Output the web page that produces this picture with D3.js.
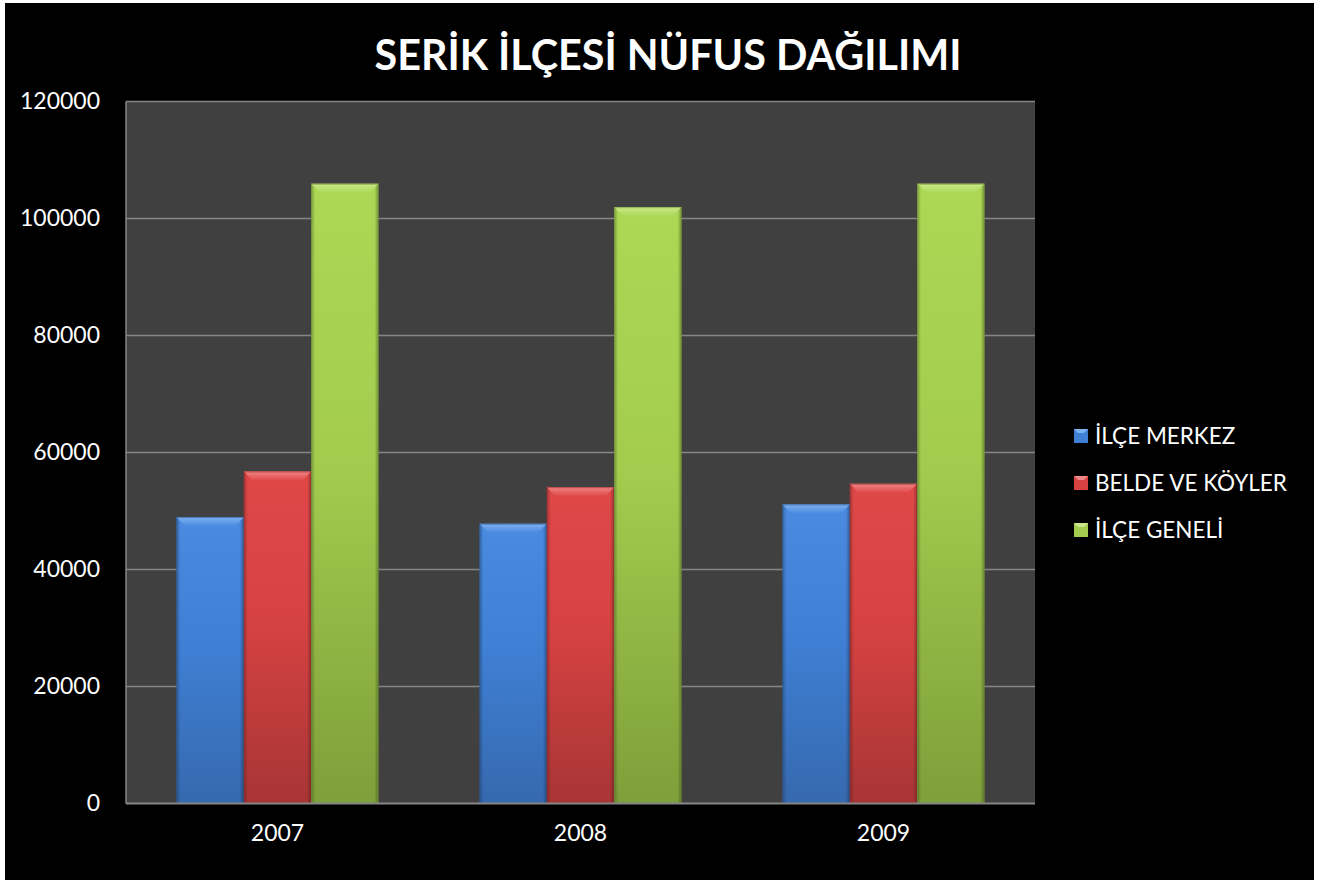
<!DOCTYPE html>
<html><head><meta charset="utf-8">
<script src="https://cdn.jsdelivr.net/npm/d3@7"></script>
<style>html,body{margin:0;padding:0;background:#fff;}svg{display:block;}</style>
</head><body>
<svg id="c" width="1335" height="880"></svg>
<script>
const title = "SERİK İLÇESİ NÜFUS DAĞILIMI";
const categories = ["2007", "2008", "2009"];
const seriesNames = ["İLÇE MERKEZ", "BELDE VE KÖYLER", "İLÇE GENELİ"];
const ilceMerkez = [48940, 47810, 51110];
const beldeKoyler = [56750, 54070, 54650];
const ilceGeneli = [105930, 101930, 105930];
const yTicks = [0, 20000, 40000, 60000, 80000, 100000, 120000];
const seriesValues = [ilceMerkez, beldeKoyler, ilceGeneli];
const colors = [
  {top:"#4a8ae0", mid:"#3f7fd4", bot:"#3669ae", bevel:"#7fb2f0", side:"#2f5e9e"},
  {top:"#e04848", mid:"#d64242", bot:"#a83535", bevel:"#f08585", side:"#9c3030"},
  {top:"#acd855", mid:"#a3cc4e", bot:"#7e9f3a", bevel:"#cbe98a", side:"#74933a"}
];
const FONT = "Lato, 'Open Sans', sans-serif";

const svg = d3.select("#c");
svg.append("rect").attr("x",5).attr("y",3).attr("width",1309).attr("height",877).attr("fill","#000");

const m = {l:126, t:101.5, r:1035, b:803.5};
const catW = (m.r - m.l)/categories.length;
const xc = d3.scaleBand().domain(categories).range([m.l, m.r]).padding(0);
const xs = d3.scaleBand().domain(d3.range(3)).range([0, catW*2/3]);
const y = d3.scaleLinear().domain([0,120000]).range([m.b, m.t]);

const defs = svg.append("defs");
colors.forEach((c,i)=>{
  const g = defs.append("linearGradient").attr("id","g"+i).attr("x1",0).attr("x2",0).attr("y1",0).attr("y2",1);
  g.append("stop").attr("offset","0%").attr("stop-color",c.top);
  g.append("stop").attr("offset","45%").attr("stop-color",c.mid);
  g.append("stop").attr("offset","100%").attr("stop-color",c.bot);
  const h = defs.append("linearGradient").attr("id","h"+i).attr("x1",0).attr("x2",1).attr("y1",0).attr("y2",0);
  h.append("stop").attr("offset","0%").attr("stop-color","#000").attr("stop-opacity",0.25);
  h.append("stop").attr("offset","6%").attr("stop-color","#000").attr("stop-opacity",0.0);
  h.append("stop").attr("offset","94%").attr("stop-color","#000").attr("stop-opacity",0.0);
  h.append("stop").attr("offset","100%").attr("stop-color","#000").attr("stop-opacity",0.3);
  const b = defs.append("linearGradient").attr("id","b"+i).attr("x1",0).attr("x2",0).attr("y1",0).attr("y2",1);
  b.append("stop").attr("offset","0%").attr("stop-color",c.bevel);
  b.append("stop").attr("offset","100%").attr("stop-color",c.top);
});

svg.append("rect").attr("x",m.l).attr("y",m.t).attr("width",m.r-m.l).attr("height",m.b-m.t).attr("fill","#404040");

svg.append("g").selectAll("line").data(yTicks.filter(d=>d>0)).join("line")
  .attr("x1",m.l).attr("x2",m.r).attr("y1",d=>y(d)).attr("y2",d=>y(d))
  .attr("stroke","#868686").attr("stroke-width",1.5);

svg.append("line").attr("x1",m.l).attr("x2",m.l).attr("y1",m.t).attr("y2",m.b).attr("stroke","#868686").attr("stroke-width",1.5);

const yAxis = svg.append("g").attr("transform",`translate(${m.l},0)`)
  .call(d3.axisLeft(y).tickValues(yTicks).tickSize(0).tickPadding(26).tickFormat(d3.format("d")));
yAxis.select(".domain").remove();
yAxis.selectAll("text").attr("fill","#fff").attr("font-family",FONT).attr("font-size",23);

const bars = [];
categories.forEach((c,ci)=>{
  seriesValues.forEach((vals,si)=>{ bars.push({c, si, v: vals[ci]}); });
});
const bw = xs.bandwidth();
const bg = svg.append("g");
bars.forEach(b=>{
  const x = xc(b.c) + catW/6 + xs(b.si);
  const yt = y(b.v), yb = y(0);
  const c = colors[b.si];
  bg.append("rect").attr("x",x).attr("y",yt).attr("width",bw).attr("height",yb-yt).attr("fill",`url(#g${b.si})`);
  bg.append("rect").attr("x",x).attr("y",yt).attr("width",bw).attr("height",yb-yt).attr("fill",`url(#h${b.si})`);
  const bv = 9;
  bg.append("polygon").attr("points",[[x,yt],[x+bw,yt],[x+bw-bv,yt+bv],[x+bv,yt+bv]].map(p=>p.join(",")).join(" "))
    .attr("fill",`url(#b${b.si})`);
  bg.append("rect").attr("x",x+0.5).attr("y",yt+0.5).attr("width",bw-1).attr("height",yb-yt-1)
    .attr("fill","none").attr("stroke",c.side).attr("stroke-opacity",0.6).attr("stroke-width",1);
});

svg.append("line").attr("x1",m.l).attr("x2",m.r).attr("y1",m.b).attr("y2",m.b).attr("stroke","#868686").attr("stroke-width",2);

const xAxis = svg.append("g").attr("transform",`translate(0,${m.b})`)
  .call(d3.axisBottom(xc).tickSize(0).tickPadding(21));
xAxis.select(".domain").remove();
xAxis.selectAll("text").attr("fill","#fff").attr("font-family",FONT).attr("font-size",23);

const t = svg.append("text").attr("x",668).attr("y",70).attr("text-anchor","middle")
  .attr("fill","#fff").attr("font-family",FONT).attr("font-weight","bold").attr("font-size",40).text(title);
const tw = t.node().getComputedTextLength();
t.attr("font-size", 40*587/tw);

const lg = svg.append("g");
seriesNames.forEach((n,i)=>{
  const ly = 436 + i*47;
  const c = colors[i];
  const s = 14, lx = 1074;
  lg.append("rect").attr("x",lx).attr("y",ly-s/2).attr("width",s).attr("height",s).attr("fill",c.mid);
  lg.append("polygon").attr("points",[[lx,ly-s/2],[lx+s,ly-s/2],[lx+s-4,ly-s/2+4],[lx+4,ly-s/2+4]].map(p=>p.join(",")).join(" ")).attr("fill",c.bevel);
  lg.append("text").attr("x",1095).attr("y",ly).attr("dy","0.35em").attr("fill","#fff")
    .attr("font-family",FONT).attr("font-size",22.5).text(n);
});
</script>
</body></html>
